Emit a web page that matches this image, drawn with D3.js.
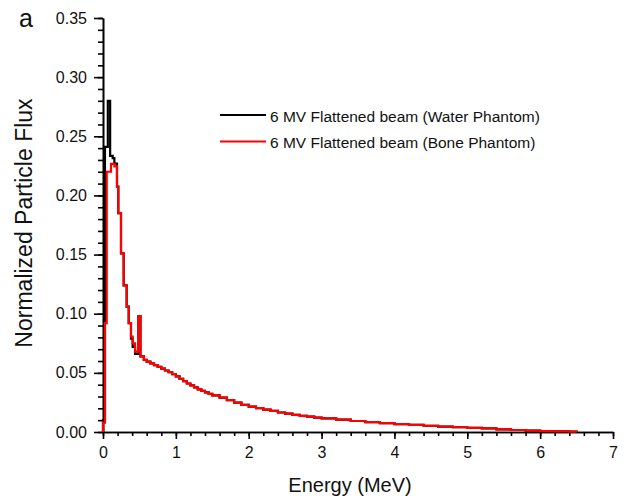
<!DOCTYPE html>
<html>
<head>
<meta charset="utf-8">
<script src="https://cdn.jsdelivr.net/npm/d3@7"></script>
<style>
  body { margin: 0; background: #fff; }
  svg { display: block; font-family: Arial, "Liberation Sans", sans-serif; }
  .axis path, .axis line { stroke: #000; stroke-width: 1.6; }
  .axis text { font-size: 16px; fill: #111; }
</style>
</head>
<body>
<div id="chart"></div>
<script>
// low-energy step bins (bin start energy, MeV) and flux
const waterE = [0, 0, 0.027, 0.066, 0.098, 0.133, 0.156, 0.192, 0.21, 0.247, 0.284, 0.325, 0.353, 0.384, 0.407, 0.44, 0.486, 0.514];
const waterV = [0, 0.01, 0.241, 0.280, 0.2335, 0.2315, 0.227, 0.2075, 0.185, 0.151, 0.124, 0.106, 0.092, 0.079, 0.072, 0.066, 0.098, 0.064];
const boneE  = [0, 0, 0.027, 0.051, 0.11, 0.156, 0.192, 0.21, 0.247, 0.284, 0.325, 0.353, 0.384, 0.407, 0.44, 0.486, 0.514];
const boneV  = [0, 0.008, 0.092, 0.220, 0.2267, 0.2245, 0.2075, 0.185, 0.151, 0.124, 0.106, 0.092, 0.0807, 0.075, 0.068, 0.098, 0.064];

// shared high-energy tail (both phantoms overlap here)
const tailE = [0.56, 0.6, 0.65, 0.7, 0.75, 0.8, 0.85, 0.9, 0.95, 1.0, 1.05, 1.1, 1.15, 1.2, 1.25, 1.3, 1.35, 1.4, 1.45, 1.5,
               1.6, 1.7, 1.8, 1.9, 2.0, 2.1, 2.2, 2.3, 2.4, 2.5, 2.6, 2.7, 2.8, 2.9, 3.0, 3.2, 3.4, 3.6, 3.8, 4.0,
               4.2, 4.4, 4.6, 4.8, 5.0, 5.2, 5.4, 5.6, 5.8, 6.0, 6.2, 6.4, 6.5];
const tailV = [0.061, 0.0595, 0.058, 0.0565, 0.055, 0.0535, 0.052, 0.0505, 0.049, 0.047, 0.045, 0.043, 0.041, 0.0395, 0.0378, 0.036, 0.0348, 0.0335, 0.0322, 0.031,
               0.029, 0.027, 0.0248, 0.023, 0.0215, 0.0202, 0.019, 0.0178, 0.0165, 0.0155, 0.0145, 0.0137, 0.013, 0.0122, 0.0115, 0.0105, 0.0093, 0.0083, 0.0075, 0.0067,
               0.006, 0.0053, 0.0046, 0.004, 0.0035, 0.003, 0.0023, 0.0017, 0.0012, 0.0008, 0.0005, 0.0003, 0.0];

const xMajor = [0, 1, 2, 3, 4, 5, 6, 7];
const yMajor = [0, 0.05, 0.10, 0.15, 0.20, 0.25, 0.30, 0.35];
const legendLabels = ["6 MV Flattened beam (Water Phantom)", "6 MV Flattened beam (Bone Phantom)"];
const seriesColors = ["#000000", "#ff0000"];

const W = 633, H = 499;
const M = { top: 18, right: 20, bottom: 67, left: 103 };

const svg = d3.select("#chart").append("svg").attr("width", W).attr("height", H);

const x = d3.scaleLinear().domain([0, 7]).range([M.left, 613]);
const y = d3.scaleLinear().domain([0, 0.35]).range([H - M.bottom, M.top]);

// minor ticks first, then major axes on top
svg.append("g").attr("class", "axis").attr("transform", `translate(0,${y(0)})`)
  .call(d3.axisBottom(x).tickValues(d3.range(0, 7.001, 0.2)).tickSize(4).tickSizeOuter(0).tickFormat(""));
svg.append("g").attr("class", "axis").attr("transform", `translate(${x(0)},0)`)
  .call(d3.axisLeft(y).tickValues(d3.range(0, 0.3501, 0.01)).tickSize(5).tickSizeOuter(0).tickFormat(""));

svg.append("g").attr("class", "axis").attr("transform", `translate(0,${y(0)})`)
  .call(d3.axisBottom(x).tickValues(xMajor).tickSize(7).tickSizeOuter(0).tickPadding(8).tickFormat(d3.format("d")));
svg.append("g").attr("class", "axis").attr("transform", `translate(${x(0)},0)`)
  .call(d3.axisLeft(y).tickValues(yMajor).tickSize(9).tickSizeOuter(0).tickPadding(7).tickFormat(d3.format(".2f")));

const line = d3.line().x((d) => x(d[0])).y((d) => y(d[1])).curve(d3.curveStepAfter);
const tail = tailE.map((e, i) => [e, tailV[i]]);
const water = waterE.map((e, i) => [e, waterV[i]]).concat(tail);
const bone = boneE.map((e, i) => [e, boneV[i]]).concat(tail);

const gLines = svg.append("g");
gLines.append("path").datum(water).attr("d", line).attr("fill", "none")
  .attr("stroke", seriesColors[0]).attr("stroke-width", 2.2);
gLines.append("path").datum(bone).attr("d", line).attr("fill", "none")
  .attr("stroke", seriesColors[1]).attr("stroke-width", 2.2);

// legend
const lg = svg.append("g").attr("transform", "translate(220,115)");
legendLabels.forEach((t, i) => {
  const row = lg.append("g").attr("transform", `translate(0,${i * 26.5})`);
  row.append("line").attr("x1", 0).attr("x2", 46).attr("stroke", seriesColors[i]).attr("stroke-width", 2.2);
  row.append("text").attr("x", 50).attr("y", 6.5).style("font-size", "15.5px").style("fill", "#111").text(t);
});

// titles
svg.append("text").attr("x", 350).attr("y", 492).attr("text-anchor", "middle")
  .style("font-size", "20px").style("fill", "#111").text("Energy (MeV)");
svg.append("text").attr("transform", "translate(32,223) rotate(-90)").attr("text-anchor", "middle")
  .style("font-size", "23px").style("fill", "#111").text("Normalized Particle Flux");
svg.append("text").attr("x", 19).attr("y", 26.5).style("font-size", "25px").style("fill", "#111").text("a");
</script>
</body>
</html>
